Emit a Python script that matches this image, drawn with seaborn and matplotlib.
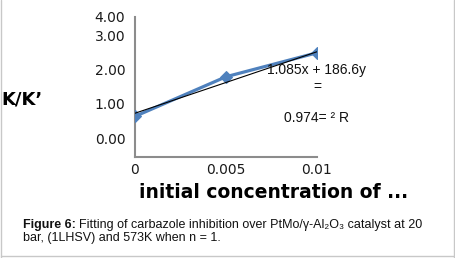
import matplotlib
matplotlib.use("Agg")
import matplotlib.pyplot as plt
import seaborn as sns
import numpy as np
from matplotlib.lines import Line2D

sns.set_style("white")
plt.rcParams['font.family'] = ['DejaVu Sans']

# data
conc = [0.0, 0.005, 0.01]
kk = [1.17, 2.31, 3.00]
fit_x = [0.0, 0.01]
fit_y = [1.26, 3.03]
x_ticks = [0, 0.005, 0.01]
x_labels = ["0", "0.005", "0.01"]
y_major = [0, 1, 2, 3, 4]
y_label_pos = [0.54, 1.54, 2.51, 3.49, 4.03]
y_labels = ["0.00", "1.00", "2.00", "3.00", "4.00"]
eq_lines = ["1.085x + 186.6y", "=", "0.974= ² R"]

W, H = 456, 258
fig = plt.figure(figsize=(W / 100, H / 100), dpi=100)
ax = fig.add_axes([135 / W, 1 - 157 / H, (317 - 135) / W, (157 - 17) / H])

sns.lineplot(x=conc, y=kk, ax=ax, color="#4f81bd", linewidth=2.3, marker="D",
             markersize=6, markeredgecolor="#4f81bd", zorder=3)
sns.lineplot(x=fit_x, y=fit_y, ax=ax, color="black", linewidth=0.8, zorder=4)

ax.set_xlim(0, 0.01)
ax.set_ylim(0, 4)
ax.set_xlabel("")
ax.set_ylabel("")

for s in ["top", "right"]:
    ax.spines[s].set_visible(False)
for s in ["left", "bottom"]:
    ax.spines[s].set_color("#8c8c8c")
    ax.spines[s].set_linewidth(1.5)

ax.set_xticks(x_ticks)
ax.set_xticklabels(x_labels)
ax.tick_params(axis="x", length=0, pad=4, labelsize=10, labelcolor="#1a1a1a")

ax.set_yticks(y_major)
ax.set_yticklabels([""] * len(y_major))
ax.tick_params(axis="y", which="major", length=4, width=1.5, color="#8c8c8c", direction="out")
ax.set_yticks(y_label_pos, minor=True)
ax.set_yticklabels(y_labels, minor=True)
ax.tick_params(axis="y", which="minor", length=0, pad=7, labelsize=10, labelcolor="#1a1a1a")

# equation annotation
ys = [70, 87, 118]
for t, yy in zip(eq_lines, ys):
    fig.text(317 / W, 1 - yy / H, t, ha="center", va="center",
             fontsize=10, family=["Liberation Sans", "DejaVu Sans"], color="#111111")

# axis titles
fig.text(1 / W, 1 - 100 / H, "K/K\u2019", ha="left", va="center", fontsize=13,
         fontweight="bold", color="black")
fig.text(274 / W, 1 - 193 / H, "initial concentration of ...", ha="center", va="center",
         fontsize=13.5, fontweight="bold", color="black")

# caption
cap_font = ["Liberation Sans", "DejaVu Sans"]
t1 = fig.text(23 / W, 1 - 225 / H, "Figure 6:", ha="left", va="center", fontsize=9,
              fontweight="bold", family=cap_font, color="#111111")
fig.canvas.draw()
bb = t1.get_window_extent()
x2 = (bb.x1 + 3) / W
fig.text(x2, 1 - 225 / H, "Fitting of carbazole inhibition over PtMo/\u03b3-Al\u2082O\u2083 catalyst at 20",
         ha="left", va="center", fontsize=9, family=cap_font, color="#111111")
fig.text(23 / W, 1 - 237.5 / H, "bar, (1LHSV) and 573K when n = 1.", ha="left", va="center",
         fontsize=9, family=cap_font, color="#111111")

# frame lines
for coords in [([1 / W, 1 / W], [0, 1]), ([454 / W, 454 / W], [0, 1]), ([1 / W, 454 / W], [2 / H, 2 / H])]:
    fig.add_artist(Line2D(coords[0], coords[1], color="#c8c8c8", linewidth=1))

fig.savefig("out.png", dpi=100)
